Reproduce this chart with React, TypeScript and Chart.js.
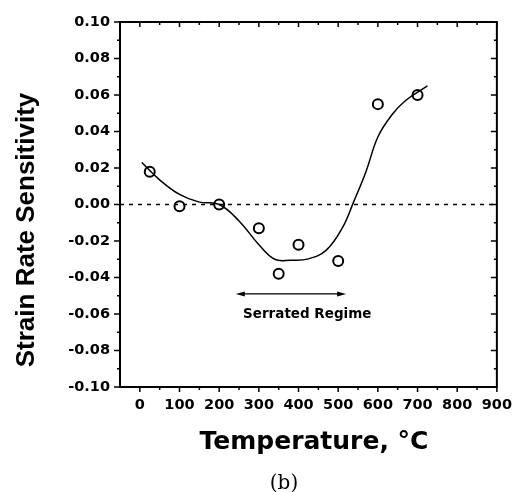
import React, { useEffect, useRef } from 'react';
import { Chart, registerables } from 'chart.js';

Chart.register(...registerables);

// Measured points (open circles)
const measuredTemps = [25, 100, 200, 300, 350, 400, 500, 600, 700];
const measuredSRS = [0.018, -0.001, 0.0, -0.013, -0.038, -0.022, -0.031, 0.055, 0.06];

// Smooth guide curve
const fitTemps = [5, 50, 100, 150, 200, 250, 300, 340, 380, 425, 470, 510, 540, 570, 600, 635, 670, 725];
const fitSRS = [0.023, 0.0135, 0.0055, 0.0013, 0.0, -0.009, -0.022, -0.03, -0.0305, -0.0298, -0.025, -0.013, 0.002, 0.018, 0.037, 0.049, 0.057, 0.065];

// Zero reference line
const zeroTemps = [-50, 900];
const zeroSRS = [0, 0];

// Axis ticks
const xTickValues = [0, 100, 200, 300, 400, 500, 600, 700, 800, 900];
const xMinorValues = [50, 150, 250, 350, 450, 550, 650, 750, 850];
const yTickValues = [-0.1, -0.08, -0.06, -0.04, -0.02, 0, 0.02, 0.04, 0.06, 0.08, 0.1];
const yMinorValues = [-0.09, -0.07, -0.05, -0.03, -0.01, 0.01, 0.03, 0.05, 0.07, 0.09];

// Annotation
const regimeFrom = 242;
const regimeTo = 520;
const regimeY = -0.049;
const regimeLabel = 'Serrated Regime';
const regimeLabelX = 422;
const regimeLabelY = -0.0605;

const xTitle = 'Temperature, °C';
const yTitle = 'Strain Rate Sensitivity';
const caption = '(b)';

const decorPlugin = {
  id: 'decor',
  afterDraw(chart: any) {
    const { ctx, chartArea: a } = chart;
    const xs = chart.scales.x;
    const ys = chart.scales.y;
    ctx.save();
    ctx.strokeStyle = '#000';
    ctx.fillStyle = '#000';
    const line = (x1: number, y1: number, x2: number, y2: number) => {
      ctx.beginPath();
      ctx.moveTo(x1, y1);
      ctx.lineTo(x2, y2);
      ctx.stroke();
    };
    ctx.lineWidth = 1.5;
    xTickValues.forEach((v) => {
      const p = xs.getPixelForValue(v);
      line(p, a.bottom, p, a.bottom + 5);
      line(p, a.top, p, a.top + 5);
    });
    xMinorValues.forEach((v) => {
      const p = xs.getPixelForValue(v);
      line(p, a.bottom, p, a.bottom + 3);
      line(p, a.top, p, a.top + 3);
    });
    yTickValues.forEach((v) => {
      const p = ys.getPixelForValue(v);
      line(a.left - 6, p, a.left, p);
      line(a.right - 6, p, a.right, p);
    });
    yMinorValues.forEach((v) => {
      const p = ys.getPixelForValue(v);
      line(a.left - 3, p, a.left, p);
      line(a.right - 3, p, a.right, p);
    });
    // frame
    ctx.lineWidth = 2;
    ctx.strokeRect(a.left, a.top, a.right - a.left, a.bottom - a.top);

    // arrow
    const ax1 = xs.getPixelForValue(regimeFrom);
    const ax2 = xs.getPixelForValue(regimeTo);
    const ay = ys.getPixelForValue(regimeY);
    ctx.lineWidth = 1.3;
    line(ax1 + 4, ay, ax2 - 4, ay);
    ctx.beginPath();
    ctx.moveTo(ax1, ay);
    ctx.lineTo(ax1 + 9, ay - 2.5);
    ctx.lineTo(ax1 + 9, ay + 2.5);
    ctx.closePath();
    ctx.fill();
    ctx.beginPath();
    ctx.moveTo(ax2, ay);
    ctx.lineTo(ax2 - 9, ay - 2.5);
    ctx.lineTo(ax2 - 9, ay + 2.5);
    ctx.closePath();
    ctx.fill();

    ctx.font = 'bold 13.5px "DejaVu Sans"';
    ctx.textAlign = 'center';
    ctx.textBaseline = 'middle';
    ctx.fillText(regimeLabel, xs.getPixelForValue(regimeLabelX), ys.getPixelForValue(regimeLabelY));

    // x title
    ctx.font = 'bold 25px "DejaVu Sans"';
    ctx.textBaseline = 'alphabetic';
    ctx.fillText(xTitle, 314, 449);

    // caption
    ctx.font = '20px "DejaVu Serif"';
    ctx.fillText(caption, 284, 489);

    // y title
    ctx.save();
    ctx.translate(26.5, 230);
    ctx.rotate(-Math.PI / 2);
    ctx.font = 'bold 26px "Liberation Sans"';
    ctx.textBaseline = 'middle';
    ctx.fillText(yTitle, 0, 0);
    ctx.restore();

    ctx.restore();
  },
};

export default function App() {
  const ref = useRef<HTMLCanvasElement | null>(null);
  useEffect(() => {
    if (!ref.current) return;
    const tickFont = { family: '"DejaVu Sans"', size: 14.5, weight: 'bold' as const };
    const chart = new Chart(ref.current, {
      type: 'scatter',
      data: {
        datasets: [
          {
            type: 'line',
            data: zeroTemps.map((t, i) => ({ x: t, y: zeroSRS[i] })),
            borderColor: '#000',
            borderWidth: 1.3,
            borderDash: [4, 5],
            pointRadius: 0,
            fill: false,
          },
          {
            type: 'line',
            data: fitTemps.map((t, i) => ({ x: t, y: fitSRS[i] })),
            borderColor: '#000',
            borderWidth: 1.5,
            tension: 0.4,
            pointRadius: 0,
            fill: false,
          },
          {
            type: 'scatter',
            data: measuredTemps.map((t, i) => ({ x: t, y: measuredSRS[i] })),
            borderColor: '#000',
            backgroundColor: 'rgba(255,255,255,0)',
            borderWidth: 2,
            pointRadius: 5,
            pointStyle: 'circle',
          },
        ],
      },
      options: {
        responsive: false,
        animation: false,
        layout: { padding: { left: 0, right: 22, top: 22, bottom: 0 } },
        plugins: { legend: { display: false }, tooltip: { enabled: false } },
        scales: {
          x: {
            type: 'linear',
            min: -50,
            max: 900,
            grid: { display: false, drawTicks: false },
            border: { display: false },
            afterBuildTicks: (s: any) => {
              s.ticks = xTickValues.map((v) => ({ value: v }));
            },
            afterFit: (s: any) => {
              s.height = 105;
            },
            ticks: {
              font: tickFont,
              color: '#000',
              padding: 10,
              maxRotation: 0,
              autoSkip: false,
              callback: (v: any) => String(v),
            },
          },
          y: {
            type: 'linear',
            min: -0.1,
            max: 0.1,
            grid: { display: false, drawTicks: false },
            border: { display: false },
            afterBuildTicks: (s: any) => {
              s.ticks = yTickValues.map((v) => ({ value: v }));
            },
            afterFit: (s: any) => {
              s.width = 120;
            },
            ticks: {
              font: tickFont,
              color: '#000',
              padding: 10,
              autoSkip: false,
              callback: (v: any) => Number(v).toFixed(2),
            },
          },
        },
      },
      plugins: [decorPlugin],
    });
    return () => chart.destroy();
  }, []);
  return (
    <div style={{ position: 'absolute', left: 0, top: 0, width: 522, height: 492, background: '#fff' }}>
      <canvas ref={ref} width={522} height={492} style={{ display: 'block' }} />
    </div>
  );
}
